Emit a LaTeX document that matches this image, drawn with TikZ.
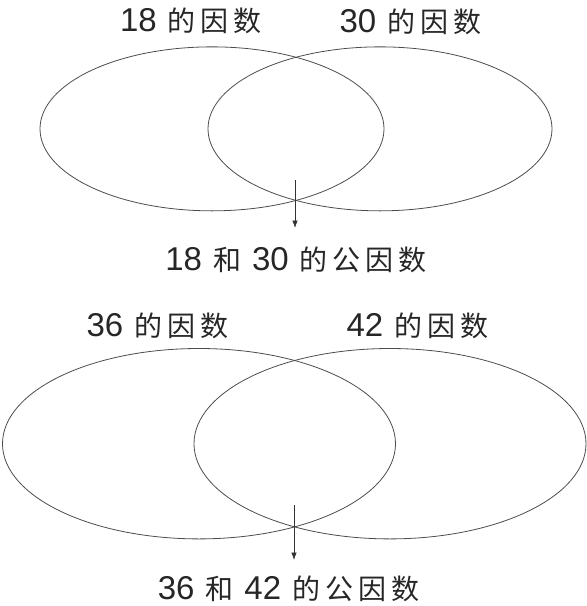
\documentclass[tikz,border=0pt]{standalone}
\usepackage{fontspec}
\setmainfont{Liberation Sans}
\newfontfamily\cjk{Noto Sans CJK SC}
\usetikzlibrary{shapes.geometric,arrows.meta}
\newcommand\gapdc{\hspace{11pt}}
\newcommand\gapcc{\hspace{5pt}}
\newcommand\hz[1]{{\cjk\fontsize{28}{30}\selectfont #1}}
\begin{document}
\begin{tikzpicture}[x=1pt,y=-1pt,
  venn/.style={ellipse, draw=black!70, line width=0.8pt, inner sep=0pt, outer sep=0pt},
  lab/.style={anchor=base, inner sep=0pt, text=black!85, font=\fontsize{33}{36}\selectfont},
  arr/.style={-{Latex[length=7.5pt,width=5.5pt]}, draw=black!80, line width=0.7pt}]
\useasboundingbox (0,0) rectangle (587,606);
% top diagram
\node[venn, minimum width=344pt, minimum height=164pt] (A18) at (212,128.85) {};
\node[venn, minimum width=344pt, minimum height=164pt] (A30) at (380,128.85) {};
\node[lab] (L18) at (191,31.7) {18\gapdc\hz{的}\gapcc\hz{因}\gapcc\hz{数}};
\node[lab] (L30) at (410.5,32) {30\gapdc\hz{的}\gapcc\hz{因}\gapcc\hz{数}};
\node[lab] (C1) at (296,270) {18\gapdc\hz{和}\gapdc30\gapdc\hz{的}\gapcc\hz{公}\gapcc\hz{因}\gapcc\hz{数}};
\coordinate (s1) at (295,180);
\coordinate (e1) at (295,228);
\draw[arr] (s1) -- (e1);
% bottom diagram
\node[venn, minimum width=393pt, minimum height=190.4pt] (B36) at (199,443.7) {};
\node[venn, minimum width=392pt, minimum height=190.4pt] (B42) at (390,443.7) {};
\node[lab] (L36) at (157.5,336.5) {36\gapdc\hz{的}\gapcc\hz{因}\gapcc\hz{数}};
\node[lab] (L42) at (417.5,336.5) {42\gapdc\hz{的}\gapcc\hz{因}\gapcc\hz{数}};
\node[lab] (C2) at (288.5,599.5) {36\gapdc\hz{和}\gapdc42\gapdc\hz{的}\gapcc\hz{公}\gapcc\hz{因}\gapcc\hz{数}};
\coordinate (s2) at (294,505);
\coordinate (e2) at (294,560);
\draw[arr] (s2) -- (e2);
\end{tikzpicture}
\end{document}
